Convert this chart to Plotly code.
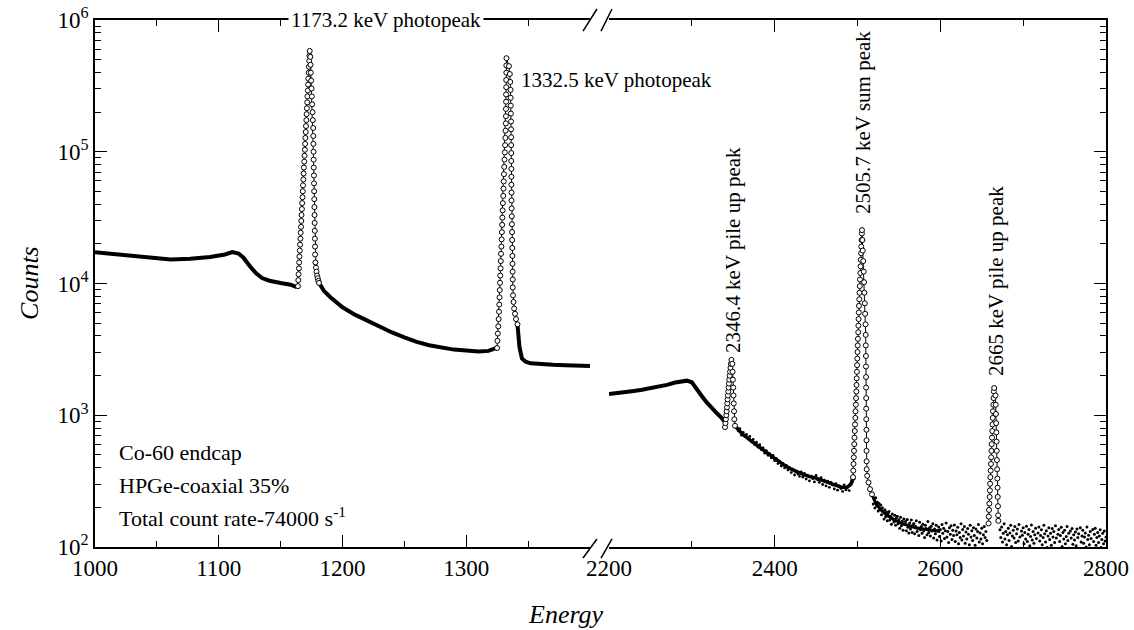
import plotly.graph_objects as go

# ---------------- 1000-1400 keV segment ----------------
left_bg_e = [1000, 1012, 1028, 1044, 1061, 1077, 1093, 1105, 1111, 1116, 1120, 1125,
             1130, 1135, 1141, 1150, 1158, 1163]
left_bg_c = [17300, 16900, 16200, 15700, 15200, 15400, 15900, 16600, 17300, 16900, 15700,
             13600, 12000, 11000, 10500, 10100, 9800, 9400]

peak1173_e = [1164.0, 1164.3, 1164.5, 1164.8, 1165.0, 1165.2, 1165.5, 1165.7, 1166.0, 1166.2,
              1166.5, 1166.7, 1166.9, 1167.2, 1167.4, 1167.7, 1167.9, 1168.1, 1168.4, 1168.6,
              1168.8, 1169.1, 1169.3, 1169.6, 1169.8, 1170.0, 1170.3, 1170.5, 1170.8, 1171.0,
              1171.2, 1171.5, 1171.7, 1172.0, 1172.2, 1172.4, 1172.7, 1172.9, 1173.1, 1173.3,
              1173.5,
              1174.0, 1174.2, 1174.4, 1174.7, 1175.0, 1175.2, 1175.5, 1175.8, 1176.0, 1176.3,
              1176.4, 1176.5, 1176.6, 1176.7, 1176.8, 1176.9, 1177.0, 1177.1, 1177.2, 1177.3,
              1177.4, 1177.5, 1177.6, 1177.7, 1177.8, 1177.9, 1178.1, 1178.6, 1179.0, 1179.5,
              1180.0, 1180.5, 1181.0]
peak1173_c = [9550, 10600, 11750, 13030, 14450, 16030, 17780, 19720, 21880, 24270,
              26920, 29850, 33110, 36730, 40740, 45190, 50120, 55590, 61660, 68390,
              75860, 84140, 93330, 103500, 114800, 127400, 141300, 156700, 173800, 192800,
              213800, 237100, 263000, 291700, 323600, 358900, 398100, 441600, 489800, 537000,
              582100,
              524800, 457100, 398100, 346700, 302000, 263000, 229100, 199500, 173800, 151400,
              131800, 114800, 100000, 87100, 75860, 66070, 57540, 50120, 43650, 38020,
              33110, 28840, 25120, 21880, 19050, 16600, 14450, 13180, 12300, 11480,
              10960, 10470, 10100]

compton_e = [1181, 1185, 1190, 1195, 1200, 1210, 1220, 1230, 1240, 1250, 1260, 1270, 1280,
             1290, 1300, 1310, 1318, 1322, 1324.5]
compton_c = [10100, 8800, 7900, 7200, 6600, 5800, 5200, 4650, 4250, 3900, 3600, 3400, 3250,
             3150, 3100, 3050, 3080, 3150, 3240]

peak1332_e = [1324.9, 1325.2, 1325.5, 1325.9, 1326.2, 1326.5, 1326.7, 1326.9, 1327.1, 1327.3,
              1327.5, 1327.7, 1327.9, 1328.1, 1328.4, 1328.6, 1328.8, 1329.0, 1329.2, 1329.4,
              1329.6, 1329.9, 1330.1, 1330.3, 1330.5, 1330.7, 1330.9, 1331.2, 1331.4, 1331.6,
              1331.8, 1332.0, 1332.1, 1332.1, 1332.2, 1332.2, 1332.3, 1332.3, 1332.4, 1332.4,
              1332.5,
              1334.5, 1335.2, 1335.6, 1335.8, 1335.9, 1336.0, 1336.1, 1336.2, 1336.2, 1336.3,
              1336.3, 1336.4, 1336.4, 1336.5, 1336.5, 1336.5, 1336.6, 1336.6, 1336.7, 1336.8,
              1336.9, 1337.0, 1337.1, 1337.2, 1337.3, 1337.4, 1337.5, 1337.6, 1337.6, 1337.8,
              1338.2, 1338.7, 1339.4, 1340.2, 1341.4]
peak1332_c = [3240, 3670, 4170, 4730, 5370, 6100, 6920, 7850, 8910, 10120,
              11480, 13030, 14790, 16790, 19050, 21630, 24550, 27860, 31620, 35890,
              40740, 46240, 52480, 59570, 67610, 76740, 87100, 98860, 112200, 127400,
              144500, 164100, 186200, 211300, 239900, 272300, 309000, 350800, 398100, 451900,
              512900,
              446700, 389000, 338800, 295100, 257000, 223900, 195000, 169800, 147900, 128800,
              112200, 97700, 85100, 74100, 64600, 56200, 49000, 42700, 37150, 32360,
              28180, 24550, 21380, 18620, 16220, 14130, 12300, 10720, 9330, 8130,
              7240, 6460, 5890, 5370, 4900]

tail_e = [1341.4, 1343, 1345, 1348, 1352, 1360, 1370, 1380, 1390, 1400]
tail_c = [4900, 3300, 2700, 2550, 2480, 2440, 2420, 2400, 2380, 2370]

# ---------------- 2200-2800 keV segment ----------------
right_bg_e = [2200, 2210, 2220, 2230, 2240, 2250, 2260, 2270, 2280, 2288, 2294, 2300, 2306,
              2312, 2318, 2324, 2330, 2335, 2339]
right_bg_c = [1450, 1470, 1500, 1530, 1560, 1600, 1640, 1700, 1770, 1820, 1830, 1780, 1600,
              1400, 1250, 1130, 1040, 970, 900]

peak2346_e = [2340.0, 2340.6, 2341.1, 2341.6, 2342.0, 2342.4, 2342.8, 2343.2, 2343.6, 2344.0,
              2344.4, 2344.8, 2345.2, 2345.7, 2346.2, 2346.7, 2347.2, 2347.8,
              2348.9, 2349.2, 2349.6, 2350.0, 2350.3, 2350.6, 2351.0, 2351.3, 2352.1]
peak2346_c = [813, 871, 933, 1000, 1072, 1148, 1230, 1318, 1413, 1514,
              1622, 1738, 1862, 1995, 2138, 2291, 2455, 2630,
              2455, 2138, 1862, 1622, 1413, 1230, 1072, 933, 832]

mid_bg_e = [2352.1, 2360, 2370, 2380, 2390, 2400, 2410, 2420, 2430, 2440, 2450, 2460, 2470,
            2480, 2487, 2492, 2494.6]
mid_bg_c = [832, 730, 650, 580, 520, 470, 425, 390, 365, 345, 333, 315, 298, 285, 282, 300, 339]

mid_scatter_e = list(range(2354, 2497, 2))
mid_scatter_c = [812, 760, 790, 705, 742, 688, 715, 662, 690, 628,
                 655, 597, 625, 572, 598, 548, 566, 515, 538, 496,
                 512, 474, 495, 452, 471, 430, 449, 412, 431, 398,
                 416, 384, 400, 367, 389, 352, 376, 358, 344, 371,
                 339, 362, 328, 351, 318, 345, 330, 312, 349, 322,
                 309, 336, 298, 322, 291, 316, 284, 309, 295, 276,
                 302, 270, 291, 278, 264, 296, 271, 287, 268, 298,
                 312, 328]

peak2505_e = [2494.6, 2494.9, 2495.2, 2495.5, 2495.8, 2496.1, 2496.4, 2496.7, 2497.0, 2497.4,
              2497.6, 2498.0, 2498.3, 2498.6, 2498.8, 2499.0, 2499.3, 2499.5, 2499.8, 2500.0,
              2500.3, 2500.5, 2500.9, 2501.1, 2501.3, 2501.6, 2501.8, 2502.2, 2502.4, 2502.8,
              2503.0, 2503.4, 2503.7, 2504.0, 2504.4, 2504.6, 2505.0, 2505.3, 2505.4,
              2505.9, 2506.4, 2506.9, 2507.5, 2508.0, 2508.3, 2508.8, 2509.2, 2509.7, 2509.9,
              2510.0, 2510.2, 2510.2, 2510.3, 2510.4, 2510.5, 2510.5, 2510.6, 2510.8, 2510.9,
              2510.9, 2511.0, 2511.1, 2511.7, 2513.3, 2515.1, 2517.5]
peak2505_c = [339, 380, 427, 479, 537, 603, 676, 759, 851, 955,
              1072, 1202, 1349, 1514, 1698, 1905, 2138, 2399, 2692, 3020,
              3388, 3802, 4266, 4786, 5370, 6026, 6761, 7586, 8511, 9550,
              10720, 12020, 13490, 15140, 16980, 19050, 21380, 23990, 25410,
              21380, 17780, 14790, 12300, 10230, 8511, 7079, 5888, 4898, 4074,
              3388, 2818, 2344, 1950, 1622, 1349, 1122, 933, 776, 646,
              537, 447, 389, 347, 309, 275, 251]

# dense core of the continuum just above the sum peak
sum_tail_e = [2517.5, 2522, 2528, 2535, 2545, 2555, 2570, 2585, 2600]
sum_tail_c = [251, 215, 192, 175, 160, 150, 140, 135, 131]

high_scatter_e = list(range(2518, 2657))
high_scatter_c = [248, 212, 231, 198, 236, 205, 219, 188, 214, 193,
                  208, 176, 199, 185, 163, 192, 170, 184, 158, 179,
                  186, 160, 171, 149, 178, 163, 155, 174, 146, 166,
                  171, 150, 161, 139, 168, 145, 157, 134, 163, 148,
                  156, 133, 162, 141, 128, 152, 137, 160, 129, 147,
                  151, 126, 144, 158, 131, 139, 122, 154, 135, 143,
                  127, 149, 133, 118, 146, 138, 124, 156, 129, 140,
                  121, 144, 132, 150, 117, 137, 126, 146, 113, 134,
                  142, 120, 136, 111, 148, 127, 139, 116, 133, 152,
                  119, 131, 108, 140, 125, 145, 114, 134, 122, 147,
                  110, 132, 124, 141, 106, 129, 118, 150, 113, 136,
                  121, 143, 107, 130, 115, 138, 125, 104, 146, 119,
                  133, 112, 140, 122, 103, 137, 117, 131, 148, 109,
                  128, 115, 139, 106, 124, 143, 118, 131, 112]

peak2665_e = [2658.2, 2658.5, 2658.8, 2659.2, 2659.5, 2659.8, 2660.1, 2660.4, 2660.8, 2661.1,
              2661.4, 2661.7, 2662.0, 2662.4, 2662.7, 2663.0, 2663.3, 2663.6, 2664.0, 2664.3,
              2664.6, 2665.0,
              2666.6, 2666.9, 2667.1, 2667.4, 2667.6, 2667.9, 2668.1, 2668.3, 2668.6, 2668.8,
              2669.1, 2669.3, 2669.6, 2669.8, 2670.0]
peak2665_c = [151, 170, 191, 214, 240, 269, 302, 339, 380, 427,
              479, 537, 603, 676, 759, 851, 955, 1072, 1202, 1349,
              1514, 1610,
              1413, 1202, 1023, 871, 741, 631, 537, 457, 389, 331,
              282, 240, 204, 174, 158]

end_scatter_e = list(range(2672, 2801))
end_scatter_c = [135, 118, 142, 109, 127, 150, 115, 131, 104, 124,
                 139, 112, 128, 146, 101, 121, 134, 117, 143, 108,
                 126, 137, 111, 148, 119, 98, 132, 123, 140, 106,
                 129, 115, 144, 110, 125, 136, 102, 120, 147, 113,
                 131, 107, 124, 139, 116, 97, 128, 142, 111, 122,
                 135, 104, 118, 146, 126, 109, 133, 99, 121, 140,
                 114, 127, 103, 138, 119, 131, 108, 145, 117, 96,
                 125, 136, 110, 122, 141, 101, 129, 115, 134, 106,
                 120, 143, 112, 127, 98, 132, 117, 138, 105, 124,
                 113, 130, 102, 137, 118, 126, 95, 140, 109, 121,
                 134, 107, 119, 128, 100, 142, 114, 123, 104, 131,
                 116, 97, 136, 110, 125, 139, 103, 118, 129, 108,
                 121, 135, 99, 114, 127, 106, 132, 111, 119]

x_ticks_low = [1000, 1100, 1200, 1300]
x_minor_low = [1050, 1150, 1250, 1350]
x_ticks_high = [2200, 2400, 2600, 2800]
x_minor_high = [2300, 2500, 2700]
y_ticks = [1e2, 1e3, 1e4, 1e5, 1e6]
y_ticktext = ["10<sup>2</sup>", "10<sup>3</sup>", "10<sup>4</sup>", "10<sup>5</sup>", "10<sup>6</sup>"]
y_minor = [m * 10 ** d for d in range(2, 6) for m in range(2, 10)]

FONT = "Liberation Serif"
fig = go.Figure()


def band(x, y, xa, ya, width=4):
    fig.add_trace(go.Scatter(x=x, y=y, mode="lines", xaxis=xa, yaxis=ya,
                             line=dict(color="black", width=width), hoverinfo="skip"))


def peak(x, y, xa, ya):
    fig.add_trace(go.Scatter(x=x, y=y, mode="lines+markers", xaxis=xa, yaxis=ya,
                             line=dict(color="black", width=1),
                             marker=dict(symbol="circle", size=5, color="white",
                                         line=dict(color="black", width=1)),
                             hoverinfo="skip"))


def dots(x, y, xa, ya, size=2.8):
    fig.add_trace(go.Scatter(x=x, y=y, mode="markers", xaxis=xa, yaxis=ya,
                             marker=dict(size=size, color="black"), hoverinfo="skip"))


band(left_bg_e, left_bg_c, "x", "y")
band(compton_e, compton_c, "x", "y")
band(tail_e, tail_c, "x", "y")
peak(peak1173_e, peak1173_c, "x", "y")
peak(peak1332_e, peak1332_c, "x", "y")

band(right_bg_e, right_bg_c, "x2", "y2")
band(mid_bg_e, mid_bg_c, "x2", "y2", width=3.5)
band(sum_tail_e, sum_tail_c, "x2", "y2", width=3)
dots(mid_scatter_e, mid_scatter_c, "x2", "y2")
dots(high_scatter_e, high_scatter_c, "x2", "y2", size=3)
dots(end_scatter_e, end_scatter_c, "x2", "y2", size=3)
peak(peak2346_e, peak2346_c, "x2", "y2")
peak(peak2505_e, peak2505_c, "x2", "y2")
peak(peak2665_e, peak2665_c, "x2", "y2")

common_x = dict(ticks="inside", ticklen=12, tickwidth=1.3, tickcolor="black",
                showline=True, linewidth=1.5, linecolor="black", mirror="ticks",
                showgrid=False, zeroline=False, automargin=False,
                tickfont=dict(family=FONT, size=23, color="black"))
common_y = dict(type="log", range=[2, 6], ticks="inside", ticklen=12, tickwidth=1.3,
                tickcolor="black", showline=True, linewidth=1.5, linecolor="black",
                showgrid=False, zeroline=False, automargin=False,
                tickmode="array", tickvals=y_ticks, ticktext=y_ticktext,
                minor=dict(tickvals=y_minor, ticks="inside", ticklen=6, tickwidth=1.2,
                           tickcolor="black"),
                tickfont=dict(family=FONT, size=23, color="black"))

fig.update_layout(
    template="none",
    width=1134, height=630,
    margin=dict(l=95, r=28, t=20, b=83),
    plot_bgcolor="white", paper_bgcolor="white",
    showlegend=False,
    font=dict(family=FONT, size=21, color="black"),
    xaxis=dict(domain=[0, 0.4896], range=[1000, 1400], anchor="y",
               tickmode="array", tickvals=x_ticks_low,
               minor=dict(tickvals=x_minor_low, ticks="inside", ticklen=6, tickwidth=1.2,
                          tickcolor="black"),
               **common_x),
    xaxis2=dict(domain=[0.5084, 1], range=[2200, 2800], anchor="y2",
                tickmode="array", tickvals=x_ticks_high,
                minor=dict(tickvals=x_minor_high, ticks="inside", ticklen=6, tickwidth=1.2,
                           tickcolor="black"),
                **common_x),
    yaxis=dict(domain=[0, 1], anchor="x", side="left", mirror=False, **common_y),
    yaxis2=dict(domain=[0, 1], anchor="x2", side="right", mirror=False,
                showticklabels=False, **common_y),
)

# axis-break marks
breaks = [
    (0.4827, -0.0209, 0.4965, 0.0152), (0.5005, -0.0209, 0.5114, 0.0152),
    (0.4827, 0.979, 0.4965, 1.0209), (0.5005, 0.979, 0.5114, 1.0209),
]
for x0, y0, x1, y1 in breaks:
    fig.add_shape(type="line", xref="paper", yref="paper", x0=x0, y0=y0, x1=x1, y1=y1,
                  line=dict(color="black", width=1.5))

txt = dict(family=FONT, size=21, color="black")
txt_big = dict(family=FONT, size=22, color="black")
annotations = [
    dict(text="1173.2 keV photopeak", x=0.2878, y=1.0, xanchor="center", yanchor="middle",
         bgcolor="white", borderpad=2, font=txt),
    dict(text="1332.5 keV photopeak", x=0.4194, y=0.8861, xanchor="left", yanchor="middle",
         font=txt),
    dict(text="2346.4 keV pile up peak", x=0.631, y=0.5636, xanchor="center",
         yanchor="middle", textangle=-90, font=txt),
    dict(text="2505.7 keV sum peak", x=0.7596, y=0.8065, xanchor="center",
         yanchor="middle", textangle=-90, font=txt),
    dict(text="2665 keV pile up peak", x=0.8912, y=0.5047, xanchor="center",
         yanchor="middle", textangle=-90, font=txt),
    dict(text="Co-60 endcap", x=0.0218, y=0.1784, xanchor="left", yanchor="middle",
         font=txt_big),
    dict(text="HPGe-coaxial 35%", x=0.0218, y=0.1176, xanchor="left", yanchor="middle",
         font=txt_big),
    dict(text="Total count rate-74000 s<sup>-1</sup>", x=0.0218, y=0.0569,
         xanchor="left", yanchor="middle", font=txt_big),
]
for a in annotations:
    fig.add_annotation(xref="paper", yref="paper", showarrow=False, **a)

fig.add_annotation(text="<i>Counts</i>", xref="paper", yref="paper", x=-0.0643, y=0.501,
                   textangle=-90, showarrow=False, xanchor="center", yanchor="middle",
                   font=dict(family=FONT, size=26, color="black"))
fig.add_annotation(text="<i>Energy</i>", xref="paper", yref="paper", x=0.4659, y=-0.129,
                   showarrow=False, xanchor="center", yanchor="middle",
                   font=dict(family=FONT, size=26, color="black"))

fig.write_html("out.html")
